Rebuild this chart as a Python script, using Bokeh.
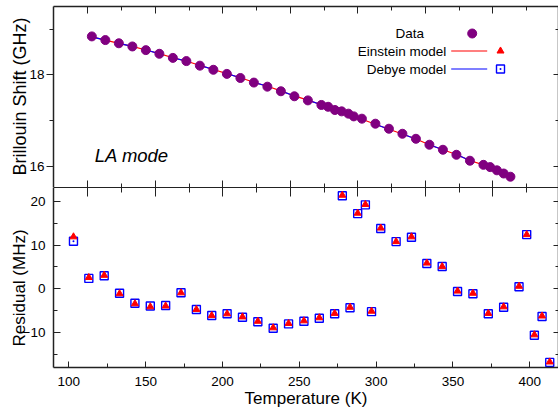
from bokeh.plotting import figure
from bokeh.layouts import column
from bokeh.models import LinearAxis, Range1d, FixedTicker, Label, Title, Grid
from bokeh.embed import file_html
from bokeh.resources import INLINE

# ---------------- data ----------------
temperature = [103, 113, 123, 133, 143, 153, 163, 173, 183, 193, 203, 213, 223, 233,
               243, 253, 263, 273, 278, 283, 288, 293, 297, 303, 313, 323, 333, 343,
               353, 363, 373, 383, 393, 398, 403, 408, 413]
brillouin_shift = [18.84, 18.76, 18.69, 18.62, 18.54, 18.46, 18.37, 18.30, 18.20, 18.11,
                   18.02, 17.93, 17.83, 17.74, 17.64, 17.53, 17.44, 17.34, 17.30, 17.23,
                   17.20, 17.15, 17.09, 17.04, 16.93, 16.82, 16.71, 16.60, 16.47, 16.36,
                   16.25, 16.12, 16.03, 15.98, 15.91, 15.84, 15.77]
residual_einstein = [11.9, 2.6, 3.1, -1.1, -3.4, -4.1, -3.9, -0.9, -4.7, -6.1, -5.7, -6.4,
                     -7.4, -8.9, -7.9, -7.3, -6.6, -5.6, 21.4, -4.2, 17.3, 19.3, -5.1, 13.9,
                     10.8, 11.9, 5.9, 5.1, -0.5, -1.0, -5.6, -4.1, 0.6, 12.4, -10.5, -6.2, -16.7]
residual_debye = [10.9, 2.4, 3.0, -1.0, -3.3, -3.9, -3.8, -0.9, -4.7, -6.1, -5.7, -6.5,
                  -7.5, -9.0, -8.0, -7.4, -6.7, -5.7, 21.3, -4.3, 17.2, 19.2, -5.2, 13.8,
                  10.8, 11.8, 5.8, 5.1, -0.6, -1.1, -5.7, -4.2, 0.5, 12.4, -10.6, -6.3, -16.8]

top_x_ticks = [100, 150, 200, 250, 300, 350, 400]
top_x_minor = [125, 175, 225, 275, 325, 375, 425]
bot_x_ticks = [100, 150, 200, 250, 300, 350, 400]
bot_x_minor = [125, 175, 225, 275, 325, 375]
shift_ticks = [16, 18]
shift_minor = [17, 19]
res_ticks = [-10, 0, 10, 20]
res_minor = [-15, -5, 5, 15]

# model curves (data minus residual, residual in MHz)
einstein_fit = [s - r / 1000.0 for s, r in zip(brillouin_shift, residual_einstein)]
debye_fit = [s - r / 1000.0 for s, r in zip(brillouin_shift, residual_debye)]

FONT = "Liberation Sans"
AX = "#222222"
PURPLE = "#800080"
RED = "#ff0000"
BLUE = "#0000ff"

W = 558
BL = 53
TOP_B = 6
TOP_FRAME_H = 181
BOT_FRAME_H = 182
BOT_B = 41

top_x = Range1d(74.6, 448.6)
top_y = Range1d(15.534, 19.4945)
bot_x = Range1d(90.0, 418.7)
bot_y = Range1d(-17.97, 23.17)


def style_axis(ax, mj_in, mj_out, mn_in, mn_out, labels=False, standoff=0, lw=1.5):
    ax.axis_line_color = AX
    ax.axis_line_width = lw
    ax.major_tick_line_color = AX
    ax.minor_tick_line_color = AX
    ax.major_tick_line_width = 1
    ax.minor_tick_line_width = 1
    ax.major_tick_in = mj_in
    ax.major_tick_out = mj_out
    ax.minor_tick_in = mn_in
    ax.minor_tick_out = mn_out
    if labels:
        ax.major_label_text_font = FONT
        ax.major_label_text_font_size = "13.5px"
        ax.major_label_text_color = "black"
        ax.major_label_standoff = standoff
    else:
        ax.major_label_text_font_size = "0px"
        ax.major_label_text_alpha = 0
        ax.major_label_standoff = 0


def make_fig(h, xr, yr, top, bottom):
    p = figure(width=W, height=h, x_range=xr, y_range=yr,
               x_axis_location=None, y_axis_location=None,
               toolbar_location=None, output_backend="svg",
               min_border_left=BL, min_border_right=0,
               min_border_top=top, min_border_bottom=bottom)
    p.outline_line_color = None
    p.background_fill_color = "white"
    p.border_fill_color = "white"
    p.center = [c for c in p.center if not isinstance(c, Grid)]
    return p


def side_title(p, text, size, offset, standoff):
    t = Title(text=text, align="left", offset=offset, text_font=FONT,
              text_font_size=size, text_font_style="normal", text_color="black")
    if "standoff" in t.properties():
        t.standoff = standoff
    p.add_layout(t, "left")


# ---------------- top panel ----------------
p1 = make_fig(TOP_B + TOP_FRAME_H, top_x, top_y, TOP_B, 0)

a = LinearAxis(ticker=FixedTicker(ticks=shift_ticks, minor_ticks=shift_minor))
style_axis(a, 0, 7, 0, 4, labels=True, standoff=2)
p1.add_layout(a, "left")
a = LinearAxis(ticker=FixedTicker(ticks=shift_ticks, minor_ticks=shift_minor))
style_axis(a, 5, 0, 3, 0)
p1.add_layout(a, "right")
a = LinearAxis(ticker=FixedTicker(ticks=top_x_ticks, minor_ticks=top_x_minor))
style_axis(a, 7, 0, 4, 0)
p1.add_layout(a, "above")
a = LinearAxis(ticker=FixedTicker(ticks=top_x_ticks, minor_ticks=top_x_minor))
style_axis(a, 7, 0, 4, 0, lw=1)
p1.add_layout(a, "below")
side_title(p1, "Brillouin Shift (GHz)", "18px", 12, -7)

p1.line(temperature, einstein_fit, line_color=RED, line_width=1.2)
p1.segment(temperature[:-1:2], debye_fit[:-1:2], temperature[1::2], debye_fit[1::2],
           line_color=BLUE, line_width=1.2)
p1.scatter(temperature, brillouin_shift, marker="circle", size=9,
           fill_color=PURPLE, line_color=PURPLE)

# legend (label, line sample, marker) placed by pixel offsets inside the frame
FW = W - BL
def lx(px):
    return top_x.start + (px - BL) / FW * (top_x.end - top_x.start)
def ly(py):
    return top_y.end - (py - TOP_B) / TOP_FRAME_H * (top_y.end - top_y.start)

def legend_text(txt, px, py):
    p1.add_layout(Label(x=lx(px), y=ly(py), text=txt, text_align="right",
                        text_baseline="middle", text_font=FONT,
                        text_font_size="13.5px", text_color="black"))

legend_text("Data", 423.5, 33)
p1.scatter([lx(471.7)], [ly(33)], marker="circle", size=9,
           fill_color=PURPLE, line_color=PURPLE)
legend_text("Einstein model", 445.7, 50.5)
p1.line([lx(450.7), lx(486.7)], [ly(50.5), ly(50.5)], line_color=RED, line_width=1.2)
p1.scatter([lx(500)], [ly(50.5)], marker="triangle", size=7,
           fill_color=RED, line_color=RED)
legend_text("Debye model", 445.7, 68.5)
p1.line([lx(450.7), lx(486.7)], [ly(68.5), ly(68.5)], line_color=BLUE, line_width=1.2)
p1.scatter([lx(500)], [ly(68.5)], marker="square_dot", size=8,
           fill_color="white", line_color=BLUE, line_width=1.4)

p1.add_layout(Label(x=41.3, y=32, x_units="screen", y_units="screen", text="LA mode",
                    text_baseline="middle", text_font=FONT, text_font_size="18.5px",
                    text_font_style="italic", text_color="black"))

# ---------------- bottom panel ----------------
p2 = make_fig(BOT_FRAME_H + BOT_B, bot_x, bot_y, 0, BOT_B)
p2.extra_x_ranges = {"top": top_x}

a = LinearAxis(ticker=FixedTicker(ticks=res_ticks, minor_ticks=res_minor))
style_axis(a, 7, 0, 4, 0, labels=True, standoff=8)
p2.add_layout(a, "left")
a = LinearAxis(ticker=FixedTicker(ticks=res_ticks, minor_ticks=res_minor))
style_axis(a, 5, 0, 3, 0)
p2.add_layout(a, "right")
a = LinearAxis(x_range_name="top",
               ticker=FixedTicker(ticks=top_x_ticks, minor_ticks=top_x_minor))
style_axis(a, 9, 0, 5, 0, lw=1)
p2.add_layout(a, "above")
a = LinearAxis(ticker=FixedTicker(ticks=bot_x_ticks, minor_ticks=bot_x_minor),
               axis_label="Temperature (K)")
style_axis(a, 6, 0, 4, 0, labels=True, standoff=9)
a.axis_label_text_font = FONT
a.axis_label_text_font_size = "17px"
a.axis_label_text_font_style = "normal"
a.axis_label_text_color = "black"
a.axis_label_standoff = 0
p2.add_layout(a, "below")
side_title(p2, "Residual (MHz)", "17px", 21, -18)

p2.scatter(temperature, residual_debye, marker="square_dot", size=8,
           fill_color="white", line_color=BLUE, line_width=1.4)
p2.scatter(temperature, residual_einstein, marker="triangle", size=7,
           fill_color=RED, line_color=RED)

layout = column(p1, p2, spacing=0)
open("out.html", "w").write(file_html(layout, INLINE))
